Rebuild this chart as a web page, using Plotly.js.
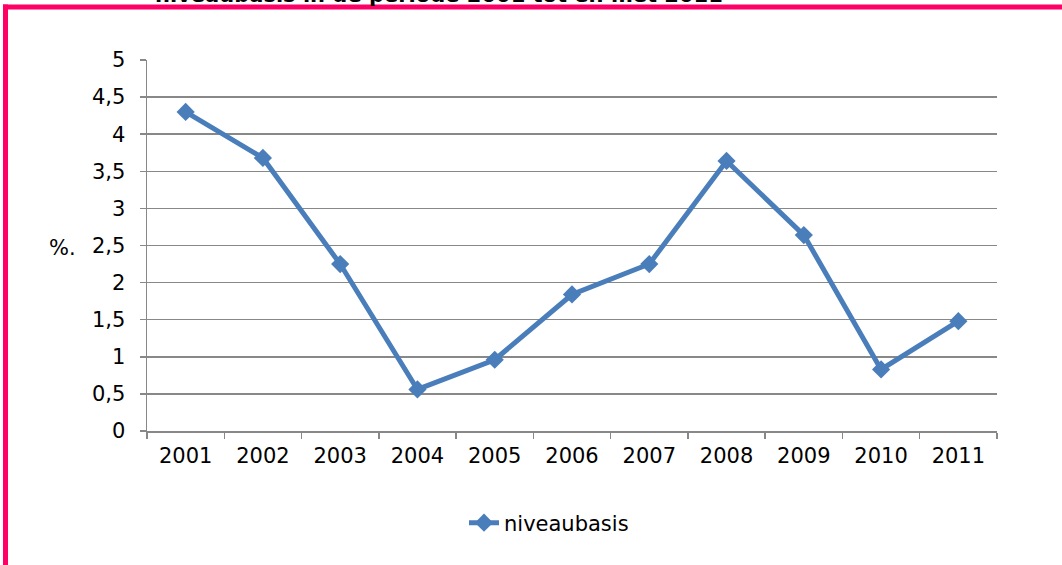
<!DOCTYPE html>
<html>
<head>
<meta charset="utf-8">
<script src="https://cdn.plot.ly/plotly-3.0.1.min.js"></script>
<style>
html,body{margin:0;padding:0;background:#fff;}
#chart{width:1062px;height:565px;}
</style>
</head>
<body>
<div id="chart"></div>
<script>
const years = ['2001','2002','2003','2004','2005','2006','2007','2008','2009','2010','2011'];
const niveaubasis = [4.30, 3.68, 2.25, 0.56, 0.96, 1.84, 2.25, 3.64, 2.64, 0.83, 1.48];
const seriesName = 'niveaubasis';
const titleText = 'niveaubasis in de periode 2001 tot en met 2011';
const yTitle = '%.';

const FONT = 'DejaVu Sans, Verdana, sans-serif';
const FS = 21;
const W = 1062, H = 565;
const L = 147, R = 65, T = 60, B = 134;
const pw = W - L - R, ph = H - T - B;
const px = x => (x - L) / pw;
const py = y => (H - B - y) / ph;

const trace = {
  x: years, y: niveaubasis, name: seriesName, type: 'scatter', mode: 'lines+markers',
  line: {color: '#4A7EBB', width: 5},
  marker: {symbol: 'diamond', size: 14, color: '#4A7EBB'}
};

const layout = {
  width: W, height: H,
  margin: {l: L, r: R, t: T, b: B, pad: 0},
  paper_bgcolor: '#fff', plot_bgcolor: '#fff',
  separators: ',.',
  font: {family: FONT, size: FS, color: '#000'},
  showlegend: true,
  legend: {x: px(549), y: py(523), xanchor: 'center', yanchor: 'middle', orientation: 'h',
           font: {family: FONT, size: FS, color: '#000'}},
  xaxis: {type: 'category', range: [-0.5, 10.5], showgrid: false, showline: true,
          linecolor: '#888', linewidth: 1.5, ticks: 'outside', tickson: 'boundaries',
          ticklen: 6, tickcolor: '#888', tickwidth: 1.5, ticklabelstandoff: 5,
          tickfont: {family: FONT, size: FS, color: '#000'}, fixedrange: true},
  yaxis: {range: [0, 5], dtick: 0.5, tick0: 0, showgrid: true, gridcolor: '#888', gridwidth: 1.5,
          showline: true, linecolor: '#888', linewidth: 1.5, ticks: 'outside', ticklen: 6,
          tickcolor: '#888', tickwidth: 1.5, zeroline: false, ticklabelstandoff: 10,
          tickfont: {family: FONT, size: FS, color: '#000'}, fixedrange: true},
  shapes: [
    {type: 'line', xref: 'paper', yref: 'paper', x0: px(3), x1: px(1070), y0: py(7), y1: py(7),
     line: {color: '#FF0066', width: 5}},
    {type: 'line', xref: 'paper', yref: 'paper', x0: px(5.5), x1: px(5.5), y0: py(4.5), y1: py(575),
     line: {color: '#FF0066', width: 5}}
  ],
  annotations: [
    {text: '<b>' + titleText + '</b>', xref: 'paper', yref: 'paper', x: px(439), y: py(9.5),
     xanchor: 'center', yanchor: 'bottom', showarrow: false,
     font: {family: FONT, size: 21, color: '#000'}},
    {text: yTitle, xref: 'paper', yref: 'y', x: px(62), y: 2.47, xanchor: 'center', yanchor: 'middle',
     showarrow: false, font: {family: FONT, size: FS, color: '#000'}}
  ]
};

Plotly.newPlot('chart', [trace], layout, {displayModeBar: false, staticPlot: true});
</script>
</body>
</html>
